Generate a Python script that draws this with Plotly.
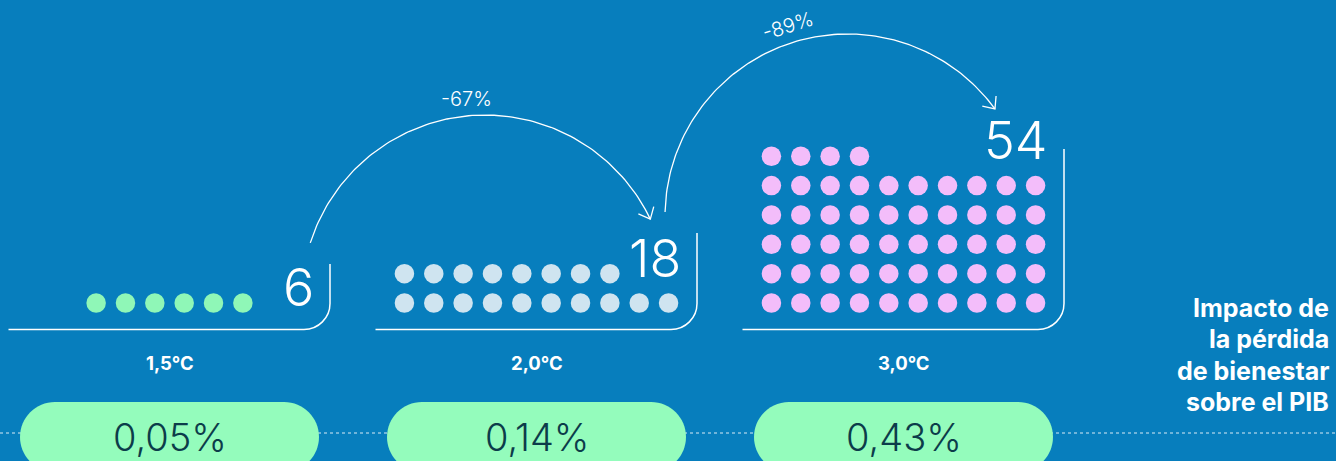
import math
import plotly.graph_objects as go

# ---------------- data ----------------
scenarios = ["1,5°C", "2,0°C", "3,0°C"]
dot_counts = [6, 18, 54]
gdp_impact = [0.05, 0.14, 0.43]          # % of GDP
dot_colors = ["#8ff7b7", "#cfe4f0", "#f3bdfa"]
side_title = ["Impacto de", "la pérdida", "de bienestar", "sobre el PIB"]

# ---------------- layout constants ----------------
W, H = 1336, 461
BG = "#077ebd"
WHITE = "#ffffff"
PILL = "#94fcbc"
PILL_TEXT = "#0c3c4a"
FONT = "Inter"

group_cx = [169.5 + 367 * i for i in range(len(scenarios))]
half_frame = 160.5
frame_bottom = 329.5
frame_top = [264, 233, 149]
corner_r = 26
pitch = 29.35
dot_size = 19.5
max_cols = 10
base_row_y = 303

fig = go.Figure()
shapes, annotations = [], []


def grid_positions(n, cx):
    cols = min(n, max_cols)
    x0 = cx - (cols - 1) / 2 * pitch
    xs, ys = [], []
    for k in range(n):
        r, c = divmod(k, cols)
        xs.append(x0 + c * pitch)
        ys.append(base_row_y - r * pitch)
    return xs, ys


for i, (n, cx) in enumerate(zip(dot_counts, group_cx)):
    xs, ys = grid_positions(n, cx)
    fig.add_trace(go.Scatter(
        x=xs, y=ys, mode="markers",
        marker=dict(size=dot_size, color=dot_colors[i], line=dict(width=0)),
        hoverinfo="skip", showlegend=False))

    # frame: baseline with rounded corner rising on the right
    xl, xr = cx - half_frame - 0.5, cx + half_frame
    k = 0.5523 * corner_r
    shapes.append(dict(
        type="path", xref="x", yref="y", layer="above",
        path=(f"M {xl},{frame_bottom} L {xr - corner_r},{frame_bottom} "
              f"C {xr - corner_r + k},{frame_bottom} {xr},{frame_bottom - corner_r + k} "
              f"{xr},{frame_bottom - corner_r} L {xr},{frame_top[i]}"),
        line=dict(color=WHITE, width=1.5)))

    # count label
    annotations.append(dict(
        x=cx + 146, y=min(ys) - 15.5, xref="x", yref="y",
        text=str(n), showarrow=False, xanchor="right", yanchor="middle",
        font=dict(family=FONT, size=52, color=WHITE, weight=300)))

    # scenario label
    annotations.append(dict(
        x=cx, y=363, xref="x", yref="y", text=f"<b>{scenarios[i]}</b>",
        showarrow=False, xanchor="center", yanchor="middle",
        font=dict(family=FONT, size=18.5, color=WHITE)))

# dashed guide behind the pills
shapes.append(dict(type="line", xref="x", yref="y", x0=0, x1=W, y0=433, y1=433,
                   line=dict(color="rgba(255,255,255,0.85)", width=1, dash="3px,3px")))

# GDP impact pills
pill_half, pill_r, pill_y = 149.5, 35, 437
for i, cx in enumerate(group_cx):
    x0, x1, r, yc = cx - pill_half, cx + pill_half, pill_r, pill_y
    k = 0.5523 * r
    path = (f"M {x0 + r},{yc - r} L {x1 - r},{yc - r} "
            f"C {x1 - r + k},{yc - r} {x1},{yc - k} {x1},{yc} "
            f"C {x1},{yc + k} {x1 - r + k},{yc + r} {x1 - r},{yc + r} "
            f"L {x0 + r},{yc + r} "
            f"C {x0 + r - k},{yc + r} {x0},{yc + k} {x0},{yc} "
            f"C {x0},{yc - k} {x0 + r - k},{yc - r} {x0 + r},{yc - r} Z")
    shapes.append(dict(type="path", xref="x", yref="y", path=path,
                       fillcolor=PILL, line=dict(width=0), layer="above"))
    label = f"{gdp_impact[i]:.2f}".replace(".", ",") + "%"
    annotations.append(dict(
        x=cx, y=pill_y, xref="x", yref="y", text=label, showarrow=False,
        xanchor="center", yanchor="middle",
        font=dict(family=FONT, size=38, color=PILL_TEXT, weight=300)))

# arcs linking the 1,5°C count to each warmer scenario
arcs = [
    dict(cx=485, cy=298.3, r=183.3, a0=-162.4, a1=-25.6, label_a=-95.3),
    dict(cx=847.5, cy=216.5, r=182.5, a0=-178.6, a1=-36.1, label_a=-107.5),
]
for j, arc in enumerate(arcs):
    steps = 120
    angs = [math.radians(arc["a0"] + (arc["a1"] - arc["a0"]) * t / steps) for t in range(steps + 1)]
    ax = [arc["cx"] + arc["r"] * math.cos(a) for a in angs]
    ay = [arc["cy"] + arc["r"] * math.sin(a) for a in angs]
    fig.add_trace(go.Scatter(x=ax, y=ay, mode="lines",
                             line=dict(color=WHITE, width=1.3),
                             hoverinfo="skip", showlegend=False))
    # arrow head at the end of the arc
    te = angs[-1]
    tip = (ax[-1], ay[-1])
    back = math.atan2(-math.cos(te), math.sin(te))
    arm = 13
    hx, hy = [], []
    for d in (math.radians(41), None, math.radians(-41)):
        if d is None:
            hx.append(tip[0]); hy.append(tip[1])
        else:
            hx.append(tip[0] + arm * math.cos(back + d))
            hy.append(tip[1] + arm * math.sin(back + d))
    fig.add_trace(go.Scatter(x=hx, y=hy, mode="lines",
                             line=dict(color=WHITE, width=1.3),
                             hoverinfo="skip", showlegend=False))
    # relative change label
    change = round((dot_counts[0] / dot_counts[j + 1] - 1) * 100)
    la = math.radians(arc["label_a"])
    annotations.append(dict(
        x=arc["cx"] + (arc["r"] + 17) * math.cos(la),
        y=arc["cy"] + (arc["r"] + 17) * math.sin(la),
        xref="x", yref="y", text=f"{change}%", showarrow=False,
        textangle=0 if j == 0 else arc["label_a"] + 90,
        xanchor="center", yanchor="middle",
        font=dict(family=FONT, size=20, color=WHITE, weight=300)))

# side caption
for i, line in enumerate(side_title):
    annotations.append(dict(
        x=1331, y=308 + 31.3 * i, xref="x", yref="y", text=f"<b>{line}</b>",
        showarrow=False, xanchor="right", yanchor="middle",
        font=dict(family=FONT, size=25, color=WHITE)))

fig.update_layout(
    width=W, height=H, margin=dict(l=0, r=0, t=0, b=0),
    paper_bgcolor=BG, plot_bgcolor=BG,
    xaxis=dict(range=[0, W], visible=False, fixedrange=True),
    yaxis=dict(range=[H, 0], visible=False, fixedrange=True),
    shapes=shapes, annotations=annotations, showlegend=False,
)

fig.write_html("out.html", config={"displayModeBar": False})
